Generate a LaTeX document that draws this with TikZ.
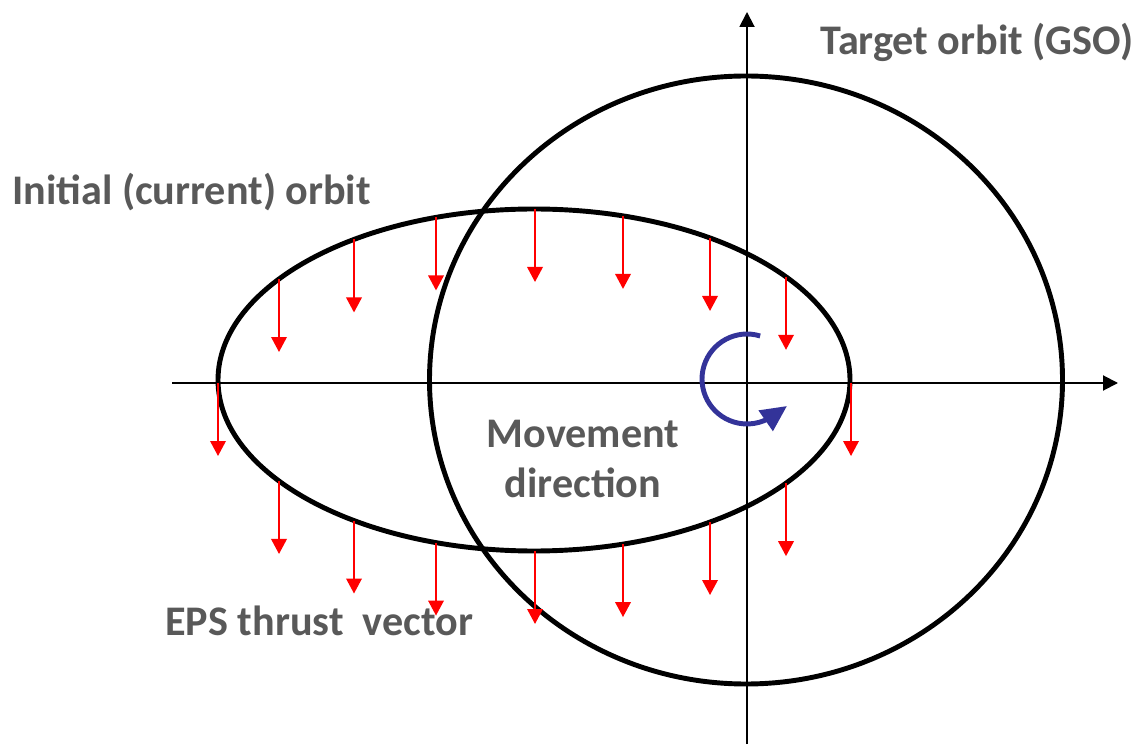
\documentclass[tikz,border=0pt]{standalone}
\usepackage{fontspec}
\setmainfont{Carlito}
\definecolor{LabelGray}{RGB}{89,89,89}
\definecolor{SpinBlue} {RGB}{51,51,153}
\usetikzlibrary{arrows.meta,positioning,calc}

\begin{document}
\begin{tikzpicture}[x=0.02cm,y=0.02cm,
  orbit/.style={draw=black,line width=2.8pt},
  axis/.style={draw=black,line width=1.1pt,
               -{Triangle[length=0.3cm,width=0.3cm]}},
  thrust/.style={draw=red,line width=1.1pt,
                 -{Triangle[length=0.3cm,width=0.31cm]}},
  spin/.style={draw=SpinBlue,line width=2.8pt,
               -{Triangle[length=0.52cm,width=0.48cm]}},
  lbl/.style={font=\fontsize{24}{28.5}\selectfont\bfseries,
              text=LabelGray,inner sep=0pt}]
  \useasboundingbox (0,0) rectangle (1138,744);
  \coordinate (xL) at (172,361);
  \coordinate (xR) at (1118,361);
  \coordinate (yB) at (747,0);
  \coordinate (yT) at (747,732);
  \coordinate (gso) at (746,364);
  \coordinate (init) at (534,364);
  \coordinate (spinc) at (747,365);
  \coordinate (spintip) at (787,338);
  \draw[axis](xL)--(xR);
  \draw[axis](yB)--(yT);
  \draw[orbit](gso) ellipse [x radius=316.5,y radius=304];
  \draw[orbit](init) ellipse [x radius=316,y radius=171];
  \foreach \x in {279,354,436,535,623,710,786}{
    \pgfmathsetmacro{\dy}{171*sqrt(1-((\x-534)/316)^2)}
    \draw[thrust](\x,364+\dy)--++(0,-73);
    \draw[thrust](\x,364-\dy)--++(0,-73);
  }
  \draw[thrust](218,361)--++(0,-73);
  \draw[thrust](851,361)--++(0,-73);
  \draw[spin]([shift={(73:0.9cm)}]spinc)
       arc[start angle=73,end angle=305,radius=0.9cm]--(spintip);
  \node[lbl,anchor=base west](gsolbl) at (820,689){Target orbit (GSO)};
  \node[lbl,anchor=base west](initlbl) at (12,539){Initial (current) orbit};
  \node[lbl,anchor=base west](epslbl) at (165,109){EPS thrust\ \ vector};
  \node[lbl,align=center,anchor=north](movelbl) at (583,324){Movement\\direction};
\end{tikzpicture}
\end{document}
